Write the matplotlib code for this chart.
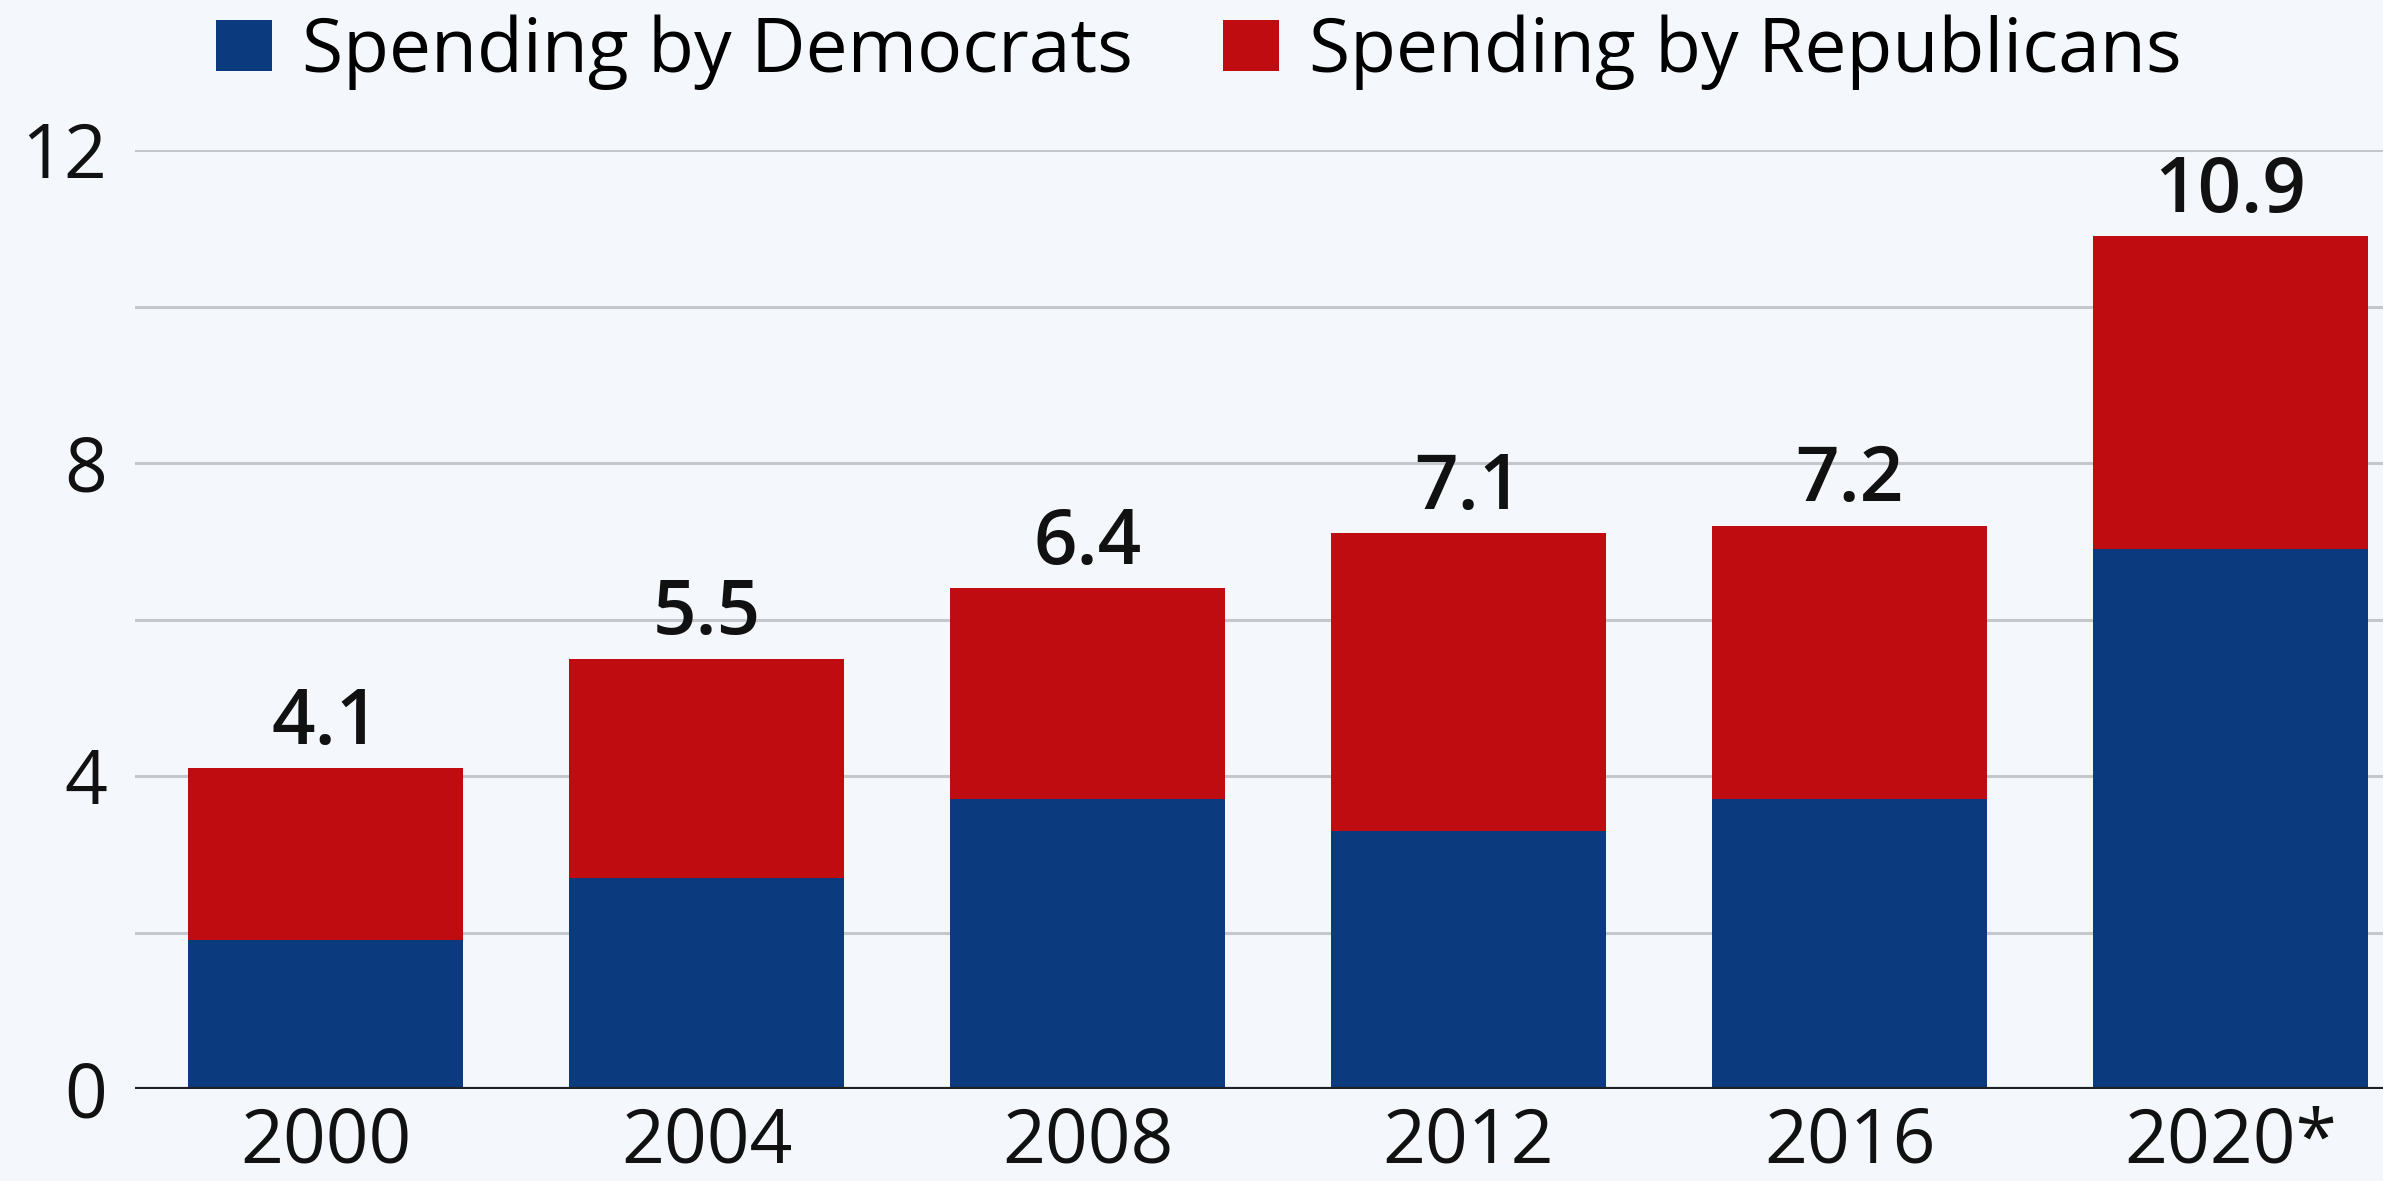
import matplotlib
matplotlib.use("Agg")
import matplotlib.pyplot as plt
from matplotlib.patches import Patch
import numpy as np

years = ["2000", "2004", "2008", "2012", "2016", "2020*"]
democrats = [1.9, 2.7, 3.7, 3.3, 3.7, 6.9]
republicans = [2.2, 2.8, 2.7, 3.8, 3.5, 4.0]
totals = [4.1, 5.5, 6.4, 7.1, 7.2, 10.9]
series_names = ["Spending by Democrats", "Spending by Republicans"]

BG = "#f4f7fb"
BLUE = "#0b3a7e"
RED = "#be0c11"

plt.rcParams["font.family"] = ["Open Sans", "DejaVu Sans"]
FS = 54

W, H = 2383, 1181
fig = plt.figure(figsize=(W / 100, H / 100), dpi=100, facecolor=BG)
ax = fig.add_axes([135 / W, 1 - 1089 / H, 1 - 135 / W, (1089 - 150) / H])
ax.set_facecolor(BG)

x = np.arange(len(years))
bw = 0.72
ax.bar(x, democrats, width=bw, color=BLUE, zorder=3)
ax.bar(x, republicans, width=bw, bottom=democrats, color=RED, zorder=3)

for xi, t in zip(x, totals):
    ax.text(xi, t + 0.08, f"{t:.1f}", ha="center", va="bottom",
            fontsize=55, fontweight=600, color="#111111", zorder=4)

ax.set_xlim(-0.5, 5.4)
ax.set_ylim(0, 12)
ax.set_yticks([0, 4, 8, 12])
ax.set_xticks(x)
ax.set_xticklabels(years)

for y in [2, 4, 6, 8, 10, 12]:
    ax.axhline(y, color="#c4c7cb", lw=2.2, zorder=1)
ax.axhline(0, color="#222222", lw=3, zorder=5)

for s in ax.spines.values():
    s.set_visible(False)
ax.tick_params(axis="both", which="both", length=0, labelsize=FS, colors="#111111")
ax.tick_params(axis="y", pad=20)
ax.tick_params(axis="x", pad=12)

handles = [Patch(facecolor=BLUE, edgecolor="none"), Patch(facecolor=RED, edgecolor="none")]
fig.legend(handles, series_names, loc="center", bbox_to_anchor=(0.503, 0.956),
           ncol=2, frameon=False, fontsize=FS, handlelength=0.75, handleheight=0.68,
           handletextpad=0.4, columnspacing=1.2, borderaxespad=0, borderpad=0)

fig.savefig("out.png", dpi=100, facecolor=BG)
